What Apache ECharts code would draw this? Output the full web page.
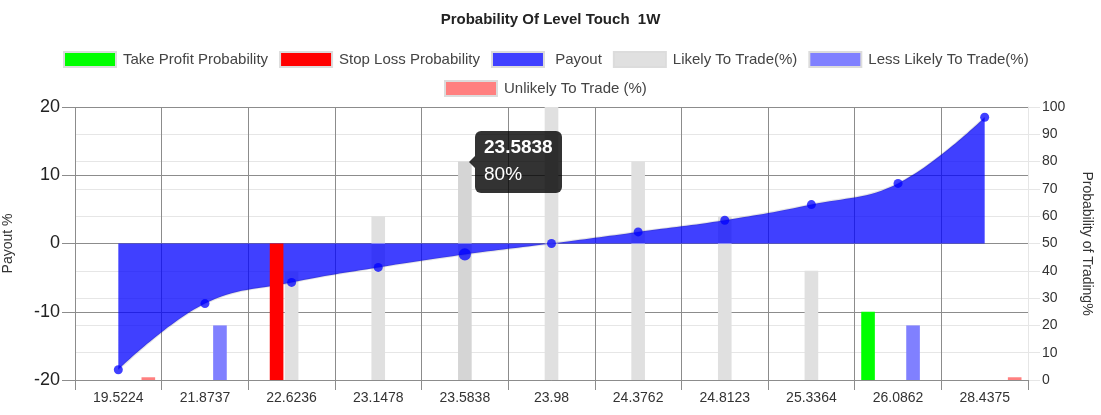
<!DOCTYPE html>
<html>
<head>
<meta charset="utf-8">
<script src="https://cdn.jsdelivr.net/npm/echarts@6/dist/echarts.min.js"></script>
<style>
html,body{margin:0;padding:0;background:#fff;}
#c{width:1101px;height:415px;}
</style>
</head>
<body>
<div id="c"></div>
<script>
// ---- data ----
const categories = ['19.5224','21.8737','22.6236','23.1478','23.5838','23.98','24.3762','24.8123','25.3364','26.0862','28.4375'];
const payout     = [-18.5, -8.8, -5.7, -3.5, -1.6, 0, 1.7, 3.4, 5.7, 8.8, 18.5];
const takeProfit = [null, null, null, null, null, null, null, null, null, 25, null];
const stopLoss   = [null, null, 50, null, null, null, null, null, null, null, null];
const likely     = [null, null, 40, 60, 80, 100, 80, 60, 40, null, null];
const lessLikely = [null, 20, null, null, null, null, null, null, null, 20, null];
const unlikely   = [1, null, null, null, null, null, null, null, null, null, 1];
const payoutTicks = [-20, -10, 0, 10, 20];
const probTicks   = [0, 10, 20, 30, 40, 50, 60, 70, 80, 90, 100];
const seriesNames = ['Take Profit Probability', 'Stop Loss Probability', 'Payout', 'Likely To Trade(%)', 'Less Likely To Trade(%)', 'Unlikely To Trade (%)'];
const titleText = 'Probability Of Level Touch  1W';
const hoverIndex = 4;

// ---- style ----
const FONT = 'Liberation Sans, Arial, Helvetica, sans-serif';
const DARK = '#8c8c8c';
const LIGHT = '#e6e6e6';

const chart = echarts.init(document.getElementById('c'), null, {renderer: 'canvas'});

const xSplitColors = categories.map(() => DARK).concat([LIGHT]);

const legendCommon = {
  icon: 'rect',
  itemWidth: 52,
  itemHeight: 15,
  itemGap: 11,
  itemStyle: {borderColor: '#dcdcdc', borderWidth: 2},
  textStyle: {fontSize: 15, color: '#444', fontFamily: FONT, padding: [0, 0, 0, 2]},
  formatter: function (n) { return n === 'Payout' ? ' Payout' : n; }
};

const option = {
  animation: false,
  backgroundColor: '#fff',
  textStyle: {fontFamily: FONT},
  title: {
    text: titleText,
    left: 'center',
    top: 7,
    textStyle: {fontSize: 15, fontWeight: 'bold', color: '#222', fontFamily: FONT}
  },
  legend: [
    Object.assign({}, legendCommon, {data: seriesNames.slice(0, 5), left: 58, top: 46}),
    Object.assign({}, legendCommon, {data: seriesNames.slice(5), left: 439, top: 75})
  ],
  tooltip: {
    trigger: 'item',
    triggerOn: 'none',
    alwaysShowContent: true,
    transitionDuration: 0,
    backgroundColor: 'rgba(0,0,0,0.8)',
    borderWidth: 0,
    borderRadius: 6,
    padding: [6, 9, 10, 9],
    extraCssText: 'box-shadow:none;',
    textStyle: {color: '#fff', fontFamily: FONT, fontSize: 19},
    position: function (point, params, dom, rect, size) {
      const p = chart.convertToPixel({xAxisIndex: 0, yAxisIndex: 1}, [categories[hoverIndex], likely[hoverIndex]]);
      return [p[0] + 10, p[1] - size.contentSize[1] / 2];
    },
    formatter: function (p) {
      return '<div style="position:absolute;left:-6px;top:50%;margin-top:-6px;width:0;height:0;' +
        'border-top:6px solid transparent;border-bottom:6px solid transparent;border-right:6px solid rgba(0,0,0,0.8);"></div>' +
        '<div style="font-weight:bold;font-size:19px;line-height:19px;margin-bottom:8px;color:#fff">' + categories[p.dataIndex] + '</div>' +
        '<div style="font-size:19px;line-height:19px;color:#fff">' + p.value + '%</div>';
    }
  },
  grid: {left: 75, right: 73, top: 107, bottom: 35, containLabel: false, outerBoundsMode: 'none'},
  xAxis: {
    type: 'category',
    data: categories,
    boundaryGap: true,
    z: 1,
    axisLine: {show: true, onZero: false, lineStyle: {color: DARK, width: 1}},
    axisTick: {show: true, length: 10, interval: 0, lineStyle: {color: DARK}},
    axisLabel: {interval: 0, fontSize: 14, color: '#333', margin: 11, fontFamily: FONT},
    splitLine: {show: true, interval: 0, lineStyle: {color: xSplitColors, width: 1}}
  },
  yAxis: [
    {
      type: 'value',
      position: 'left',
      min: payoutTicks[0],
      max: payoutTicks[payoutTicks.length - 1],
      interval: payoutTicks[1] - payoutTicks[0],
      z: 1,
      name: 'Payout %',
      nameLocation: 'middle',
      nameGap: 60,
      nameTextStyle: {fontSize: 14, color: '#333', fontFamily: FONT},
      axisLine: {show: false},
      axisTick: {show: true, length: 13, lineStyle: {color: DARK}},
      axisLabel: {fontSize: 18, color: '#222', margin: 15, fontFamily: FONT},
      splitLine: {show: true, lineStyle: {color: DARK, width: 1}}
    },
    {
      type: 'value',
      position: 'right',
      min: probTicks[0],
      max: probTicks[probTicks.length - 1],
      interval: probTicks[1] - probTicks[0],
      z: 0,
      name: 'Probability of Trading%',
      nameLocation: 'middle',
      nameRotate: -90,
      nameGap: 52,
      nameTextStyle: {fontSize: 14, color: '#333', fontFamily: FONT},
      axisLine: {show: true, onZero: false, lineStyle: {color: LIGHT}},
      axisTick: {show: true, length: 12, lineStyle: {color: LIGHT}},
      axisLabel: {fontSize: 14, color: '#333', margin: 14, fontFamily: FONT},
      splitLine: {show: true, lineStyle: {color: LIGHT, width: 1}}
    }
  ],
  series: [
    {
      name: seriesNames[0], type: 'bar', yAxisIndex: 1, z: 4,
      data: takeProfit,
      itemStyle: {color: '#00ff00'},
      emphasis: {disabled: true}
    },
    {
      name: seriesNames[1], type: 'bar', yAxisIndex: 1, z: 4,
      data: stopLoss,
      itemStyle: {color: '#ff0000'},
      emphasis: {disabled: true}
    },
    {
      name: seriesNames[2], type: 'line', yAxisIndex: 0, z: 3,
      data: payout,
      smooth: 0.4,
      symbol: 'circle',
      symbolSize: 9,
      showAllSymbol: true,
      itemStyle: {color: 'rgba(0,0,255,0.75)'},
      lineStyle: {color: 'rgba(0,0,0,0.1)', width: 2},
      areaStyle: {color: 'rgba(0,0,255,0.75)', opacity: 1},
      emphasis: {scale: 1.35, focus: 'none', lineStyle: {width: 2}, areaStyle: {color: 'rgba(0,0,255,0.75)'}}
    },
    {
      name: seriesNames[3], type: 'bar', yAxisIndex: 1, z: 2,
      data: likely,
      itemStyle: {color: '#e0e0e0'},
      emphasis: {focus: 'none', itemStyle: {color: '#d5d5d5'}}
    },
    {
      name: seriesNames[4], type: 'bar', yAxisIndex: 1, z: 2,
      data: lessLikely,
      itemStyle: {color: '#8080ff'},
      emphasis: {disabled: true}
    },
    {
      name: seriesNames[5], type: 'bar', yAxisIndex: 1, z: 2,
      data: unlikely,
      itemStyle: {color: '#ff8080'},
      emphasis: {disabled: true}
    }
  ]
};

chart.setOption(option);
chart.dispatchAction({type: 'highlight', seriesIndex: [2, 3], dataIndex: hoverIndex});
chart.dispatchAction({type: 'showTip', seriesIndex: 3, dataIndex: hoverIndex});
</script>
</body>
</html>
